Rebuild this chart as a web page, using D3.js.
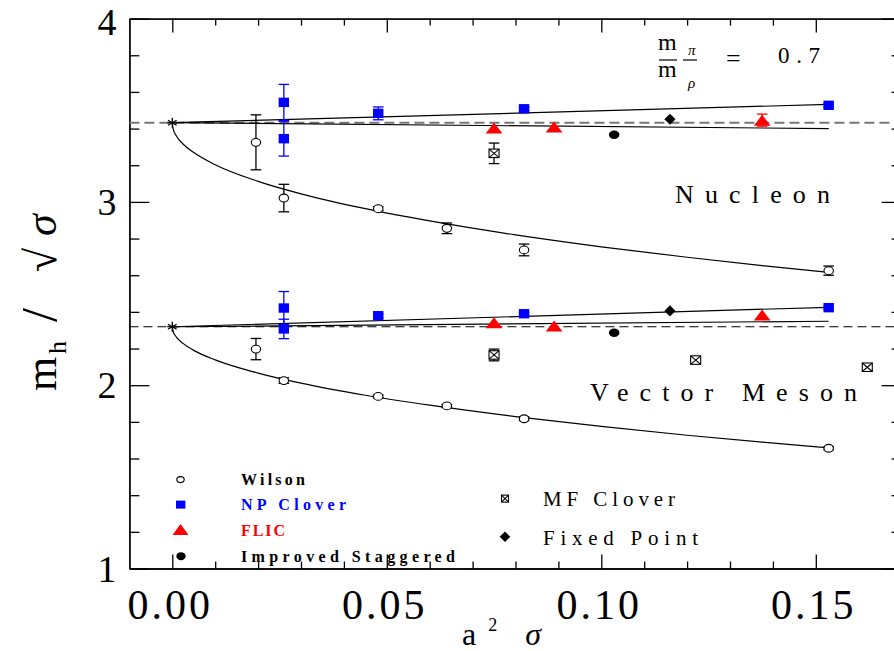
<!DOCTYPE html>
<html><head><meta charset="utf-8">
<script src="https://cdn.jsdelivr.net/npm/d3@7"></script>
<style>body{margin:0;background:#fff}svg{display:block}
text{font-family:"Liberation Serif","DejaVu Serif","Times New Roman",serif;}</style>
</head><body><svg id="c" width="894" height="651"></svg>
<script>
// ---------- tick values ----------
const xMajorTicks = [0, 0.05, 0.10, 0.15];
const xTickLabels = ["0.00", "0.05", "0.10", "0.15"];
const xMinorTicks = [0.01,0.02,0.03,0.04,0.06,0.07,0.08,0.09,0.11,0.12,0.13,0.14];
const yMajorTicks = [1, 2, 3, 4];
const yTickLabels = ["1", "2", "3", "4"];
const yMinorTicks = [1.2,1.4,1.6,1.8,2.2,2.4,2.6,2.8,3.2,3.4,3.6,3.8];

// ---------- Nucleon ----------
const aWilson = [0.0195, 0.026, 0.048, 0.064, 0.082, 0.153];
const nucWilson = [3.325, 3.021, 2.963, 2.856, 2.738, 2.625];
const nucWilsonErr = [0.15, 0.075, 0.01, 0.029, 0.032, 0.025];
const aNP = [0.026, 0.026, 0.048, 0.082, 0.153];
const nucNP = [3.543, 3.345, 3.483, 3.508, 3.527];
const nucNPErr = [0.098, 0.095, 0.035, 0.01, 0.008];
const aFLIC = [0.075, 0.089, 0.1375];
const nucFLIC = [3.403, 3.409, 3.446];
const nucFLICErr = [0, 0, 0.033];
const aStag = [0.103];
const nucStag = [3.366];
const aFixed = [0.116];
const nucFixed = [3.451];
const aMFn = [0.075];
const nucMF = [3.265];
const nucMFErr = [0.056];

// ---------- Vector meson ----------
const vecWilson = [2.197, 2.025, 1.939, 1.887, 1.817, 1.656];
const vecWilsonErr = [0.058, 0.015, 0.008, 0.008, 0.01, 0.008];
const vecNP = [2.421, 2.307, 2.379, 2.390, 2.423];
const vecNPErr = [0.09, 0.053, 0.01, 0.008, 0.008];
const vecFLIC = [2.341, 2.323, 2.383];
const vecFLICErr = [0, 0, 0];
const vecStag = [2.286];
const vecFixed = [2.405];
const aMFv = [0.075, 0.122, 0.162];
const vecMF = [2.165, 2.137, 2.098];
const vecMFErr = [0.032, 0, 0];

// ---------- fits / continuum ----------
const aLin = [0, 0.153];
const nucFitUp = [3.432, 3.532];
const nucFitLo = [3.432, 3.400];
const vecFitUp = [2.319, 2.425];
const vecFitLo = [2.319, 2.349];
const aCurve = [0, 0.0002, 0.001, 0.0025, 0.005, 0.01, 0.02, 0.03, 0.045, 0.06, 0.08, 0.10, 0.12, 0.1375, 0.153];
const nucCurve = [3.432, 3.399, 3.358, 3.316, 3.269, 3.203, 3.112, 3.044, 2.963, 2.896, 2.820, 2.755, 2.698, 2.652, 2.615];
const vecCurve = [2.319, 2.293, 2.261, 2.228, 2.190, 2.138, 2.066, 2.011, 1.945, 1.891, 1.829, 1.775, 1.727, 1.689, 1.658];
const nucCont = 3.432;
const vecCont = 2.319;

// ---------- drawing ----------
const svg = d3.select("#c");
svg.append("rect").attr("width", 894).attr("height", 651).attr("fill", "#fff");
const x = d3.scaleLinear().domain([-0.01, 0.17]).range([129.4, 901.6]);
const y = d3.scaleLinear().domain([1, 4]).range([568.5, 18.6]);

function axisG(axis, tr) {
  const g = svg.append("g").attr("transform", tr).call(axis);
  g.selectAll("path.domain").attr("stroke", "#000").attr("stroke-width", 1.3);
  g.selectAll(".tick line").attr("stroke", "#000").attr("stroke-width", 1.3);
  g.selectAll(".tick text").remove();
  return g;
}
const X0 = x.range()[0], X1 = x.range()[1], Y0 = y.range()[0], Y1 = y.range()[1];
axisG(d3.axisBottom(x).tickValues(xMajorTicks).tickSize(-14).tickSizeOuter(0), `translate(0,${Y0})`);
axisG(d3.axisBottom(x).tickValues(xMinorTicks).tickSize(-7).tickSizeOuter(0), `translate(0,${Y0})`);
axisG(d3.axisTop(x).tickValues(xMajorTicks).tickSize(-14).tickSizeOuter(0), `translate(0,${Y1})`);
axisG(d3.axisTop(x).tickValues(xMinorTicks).tickSize(-7).tickSizeOuter(0), `translate(0,${Y1})`);
axisG(d3.axisLeft(y).tickValues(yMajorTicks).tickSize(-20).tickSizeOuter(0), `translate(${X0},0)`);
axisG(d3.axisLeft(y).tickValues(yMinorTicks).tickSize(-10).tickSizeOuter(0), `translate(${X0},0)`);
axisG(d3.axisRight(y).tickValues(yMajorTicks).tickSize(-20).tickSizeOuter(0), `translate(${X1},0)`);
axisG(d3.axisRight(y).tickValues(yMinorTicks).tickSize(-10).tickSizeOuter(0), `translate(${X1},0)`);

// tick labels
svg.append("g").selectAll("text").data(xMajorTicks).join("text")
  .attr("x", d => x(d) - 2).attr("y", 619)
  .attr("text-anchor", "middle").attr("font-size", 42)
  .attr("letter-spacing", 3)
  .text((d, i) => xTickLabels[i]);
svg.append("g").selectAll("text").data(yMajorTicks).join("text")
  .attr("x", 107).attr("y", d => Math.max(y(d) + 13, 35))
  .attr("text-anchor", "middle").attr("font-size", 38)
  .text((d, i) => yTickLabels[i]);

// axis titles
const xt = svg.append("text").attr("x", 462).attr("y", 645).attr("font-size", 32);
xt.append("tspan").text("a");
xt.append("tspan").attr("font-size", 18).attr("dy", -14).attr("dx", 12).text("2");
xt.append("tspan").attr("font-size", 32).attr("dy", 14).attr("dx", 28).attr("font-style", "italic").text("σ");

const yt = svg.append("g").attr("transform", "translate(56,0) rotate(-90)")
  .append("text").attr("font-size", 44);
yt.append("tspan").attr("x", -391).attr("y", 0).text("m");
yt.append("tspan").attr("x", -354).attr("y", 10).attr("font-size", 26).text("h");
yt.append("tspan").attr("x", -322).attr("y", 0).attr("font-size", 50).text("/");
yt.append("tspan").attr("x", -272).attr("y", 0).text("√");
yt.append("tspan").attr("x", -236).attr("y", 0).attr("font-style", "italic").text("σ");

// continuum dashed lines
svg.append("line").attr("x1", X0).attr("x2", X1).attr("y1", y(nucCont)).attr("y2", y(nucCont))
  .attr("stroke", "#777").attr("stroke-width", 2).attr("stroke-dasharray", "10,5");
svg.append("line").attr("x1", X0).attr("x2", X1).attr("y1", y(vecCont)).attr("y2", y(vecCont))
  .attr("stroke", "#000").attr("stroke-width", 1.2).attr("stroke-dasharray", "9,5");

// fits
const lin = d3.line().x(d => x(d[0])).y(d => y(d[1]));
const crv = d3.line().x(d => x(d[0])).y(d => y(d[1])).curve(d3.curveMonotoneX);
[nucFitUp, nucFitLo, vecFitUp, vecFitLo].forEach(arr => {
  svg.append("path").attr("d", lin(aLin.map((a, i) => [a, arr[i]])))
    .attr("fill", "none").attr("stroke", "#000").attr("stroke-width", 1.2);
});
[nucCurve, vecCurve].forEach(arr => {
  svg.append("path").attr("d", crv(aCurve.map((a, i) => [a, arr[i]])))
    .attr("fill", "none").attr("stroke", "#000").attr("stroke-width", 1.2);
});

// error bars
function errBars(xs, ys, es, color) {
  const g = svg.append("g").attr("stroke", color).attr("stroke-width", 1.3);
  xs.forEach((a, i) => {
    if (!es[i]) return;
    const cx = x(a), t = y(ys[i] + es[i]), b = y(ys[i] - es[i]);
    g.append("line").attr("x1", cx).attr("x2", cx).attr("y1", t).attr("y2", b);
    g.append("line").attr("x1", cx - 5.3).attr("x2", cx + 5.3).attr("y1", t).attr("y2", t);
    g.append("line").attr("x1", cx - 5.3).attr("x2", cx + 5.3).attr("y1", b).attr("y2", b);
  });
}
errBars(aWilson, nucWilson, nucWilsonErr, "#000");
errBars(aWilson, vecWilson, vecWilsonErr, "#000");
errBars(aNP, nucNP, nucNPErr, "#0000ff");
errBars(aNP, vecNP, vecNPErr, "#0000ff");
errBars(aFLIC, nucFLIC, nucFLICErr, "#ff0000");
errBars(aFLIC, vecFLIC, vecFLICErr, "#ff0000");
errBars(aMFn, nucMF, nucMFErr, "#000");
errBars(aMFv, vecMF, vecMFErr, "#000");

// markers
function circles(xs, ys) {
  svg.append("g").selectAll("ellipse").data(xs).join("ellipse")
    .attr("cx", d => x(d)).attr("cy", (d, i) => y(ys[i])).attr("rx", 4.7).attr("ry", 3.9)
    .attr("fill", "#fff").attr("stroke", "#000").attr("stroke-width", 1.1);
}
function squares(xs, ys) {
  svg.append("g").selectAll("rect").data(xs).join("rect")
    .attr("x", d => x(d) - 5.2).attr("y", (d, i) => y(ys[i]) - 4.7).attr("width", 10.4).attr("height", 9.4)
    .attr("fill", "#0000ff");
}
function tri(cx, cy, w, h) { return `M${cx},${cy - h / 2}L${cx + w / 2},${cy + h / 2}L${cx - w / 2},${cy + h / 2}Z`; }
function triangles(xs, ys) {
  svg.append("g").selectAll("path").data(xs).join("path")
    .attr("d", (d, i) => tri(x(d), y(ys[i]), 16.7, 11)).attr("fill", "#ff0000");
}
function dots(xs, ys) {
  svg.append("g").selectAll("ellipse").data(xs).join("ellipse")
    .attr("cx", d => x(d)).attr("cy", (d, i) => y(ys[i])).attr("rx", 5.3).attr("ry", 4.2).attr("fill", "#000");
}
function dia(cx, cy, r) { return `M${cx},${cy - r}L${cx + r},${cy}L${cx},${cy + r}L${cx - r},${cy}Z`; }
function diamonds(xs, ys) {
  svg.append("g").selectAll("path").data(xs).join("path")
    .attr("d", (d, i) => dia(x(d), y(ys[i]), 5.6)).attr("fill", "#000");
}
function xbox(cx, cy, w, h) {
  const g = svg.append("g").attr("stroke", "#000").attr("stroke-width", 1.1);
  g.append("rect").attr("x", cx - w / 2).attr("y", cy - h / 2).attr("width", w).attr("height", h).attr("fill", "#fff");
  g.append("line").attr("x1", cx - w / 2).attr("y1", cy - h / 2).attr("x2", cx + w / 2).attr("y2", cy + h / 2);
  g.append("line").attr("x1", cx - w / 2).attr("y1", cy + h / 2).attr("x2", cx + w / 2).attr("y2", cy - h / 2);
}
function mfboxes(xs, ys) { xs.forEach((a, i) => xbox(x(a), y(ys[i]), 10, 8.5)); }
function star(cx, cy) {
  const g = svg.append("g").attr("stroke", "#000").attr("stroke-width", 1.3);
  for (let k = 0; k < 3; k++) {
    const ang = Math.PI / 2 + k * Math.PI / 3, r = 5;
    g.append("line").attr("x1", cx - r * Math.cos(ang)).attr("y1", cy - r * Math.sin(ang))
      .attr("x2", cx + r * Math.cos(ang)).attr("y2", cy + r * Math.sin(ang));
  }
  g.append("line").attr("x1", cx - 5).attr("x2", cx + 5).attr("y1", cy).attr("y2", cy);
}

circles(aWilson, nucWilson); circles(aWilson, vecWilson);
squares(aNP, nucNP); squares(aNP, vecNP);
triangles(aFLIC, nucFLIC); triangles(aFLIC, vecFLIC);
dots(aStag, nucStag); dots(aStag, vecStag);
diamonds(aFixed, nucFixed); diamonds(aFixed, vecFixed);
mfboxes(aMFn, nucMF); mfboxes(aMFv, vecMF);
star(x(0), y(nucCont)); star(x(0), y(vecCont));

// labels in the plot
svg.append("text").attr("x", 675).attr("y", 203).attr("font-size", 26)
  .attr("textLength", 155).attr("lengthAdjust", "spacing").text("Nucleon");
svg.append("text").attr("x", 590).attr("y", 401).attr("font-size", 26)
  .attr("textLength", 267).attr("lengthAdjust", "spacing").text("Vector Meson");

// ratio annotation
const an = svg.append("g");
an.append("text").attr("x", 658).attr("y", 50).attr("font-size", 24).text("m");
an.append("text").attr("x", 688).attr("y", 55).attr("font-size", 15).attr("font-style", "italic").text("π");
an.append("line").attr("x1", 659).attr("x2", 677).attr("y1", 60).attr("y2", 60).attr("stroke", "#000").attr("stroke-width", 1.2);
an.append("line").attr("x1", 683).attr("x2", 697).attr("y1", 60).attr("y2", 60).attr("stroke", "#000").attr("stroke-width", 1.2);
an.append("text").attr("x", 658).attr("y", 77).attr("font-size", 24).text("m");
an.append("text").attr("x", 688).attr("y", 88).attr("font-size", 15).attr("font-style", "italic").text("ρ");
an.append("text").attr("x", 726).attr("y", 67).attr("font-size", 26).text("=");
an.append("text").attr("x", 778).attr("y", 63).attr("font-size", 23)
  .attr("textLength", 42).attr("lengthAdjust", "spacing").text("0.7");

// legend
const legL = [
  {name: "Wilson", color: "#000", y: 485, w: 64},
  {name: "NP Clover", color: "#0000ff", y: 510, w: 105},
  {name: "FLIC", color: "#ff0000", y: 536, w: 44},
  {name: "Improved Staggered", color: "#000", y: 562, w: 214}
];
legL.forEach(d => {
  svg.append("text").attr("x", 241).attr("y", d.y).attr("font-weight", "bold")
    .attr("font-size", 16).attr("fill", d.color).attr("textLength", d.w).attr("lengthAdjust", "spacing").text(d.name);
});
svg.append("ellipse").attr("cx", 180.5).attr("cy", 479.6).attr("rx", 3.7).attr("ry", 3)
  .attr("fill", "#fff").attr("stroke", "#000").attr("stroke-width", 1.1);
svg.append("rect").attr("x", 176).attr("y", 500.6).attr("width", 9.4).attr("height", 8).attr("fill", "#0000ff");
svg.append("path").attr("d", tri(180.5, 529.6, 16, 11)).attr("fill", "#ff0000");
svg.append("ellipse").attr("cx", 181).attr("cy", 556.2).attr("rx", 4.6).attr("ry", 4).attr("fill", "#000");

svg.append("text").attr("x", 543).attr("y", 505.7).attr("font-size", 21)
  .attr("textLength", 132).attr("lengthAdjust", "spacing").text("MF Clover");
svg.append("text").attr("x", 543).attr("y", 544.6).attr("font-size", 21)
  .attr("textLength", 155).attr("lengthAdjust", "spacing").text("Fixed Point");
xbox(505, 498.6, 7, 7);
svg.append("path").attr("d", dia(505, 536.8, 5.3)).attr("fill", "#000");
</script></body></html>
